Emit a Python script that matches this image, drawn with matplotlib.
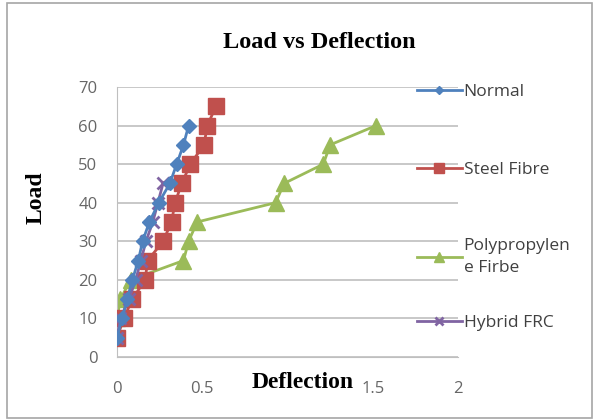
import matplotlib
matplotlib.use("Agg")
import matplotlib.pyplot as plt
from matplotlib.patches import Rectangle

# Load steps (kN) and deflections (mm)
normal_load = [5, 10, 15, 20, 25, 30, 35, 40, 45, 50, 55, 60]
normal_defl = [0.0, 0.03, 0.06, 0.09, 0.125, 0.15, 0.19, 0.245, 0.31, 0.35, 0.39, 0.42]

steel_load = [5, 10, 15, 20, 25, 30, 35, 40, 45, 50, 55, 60, 65]
steel_defl = [0.0, 0.04, 0.09, 0.165, 0.18, 0.27, 0.32, 0.34, 0.38, 0.43, 0.51, 0.53, 0.58]

poly_load = [10, 15, 20, 25, 30, 35, 40, 45, 50, 55, 60]
poly_defl = [0.0, 0.02, 0.08, 0.39, 0.42, 0.47, 0.93, 0.98, 1.21, 1.25, 1.52]

hybrid_load = [5, 10, 15, 20, 25, 30, 35, 40, 45]
hybrid_defl = [0.0, 0.02, 0.07, 0.11, 0.14, 0.17, 0.21, 0.24, 0.27]

x_ticks = [0, 0.5, 1, 1.5, 2]
x_tick_labels = ["0", "0.5", "", "1.5", "2"]
y_ticks = [0, 10, 20, 30, 40, 50, 60, 70]

fig = plt.figure(figsize=(5.93, 4.2), dpi=100)
ax = fig.add_axes([117 / 593, 1 - 357 / 420, (458 - 117) / 593, (357 - 87) / 420])

# Plot each series
h1, = ax.plot(normal_defl, normal_load, color="#4F81BD", marker="D", markersize=7, lw=2, label="Normal", zorder=5)
h2, = ax.plot(steel_defl, steel_load, color="#C0504D", marker="s", markersize=11, lw=2, label="Steel Fibre", zorder=3)
h3, = ax.plot(poly_defl, poly_load, color="#9BBB59", marker="^", markersize=11, lw=2, label="Polypropylen\ne Firbe", zorder=2)
h4, = ax.plot(hybrid_defl, hybrid_load, color="#8064A2", marker="x", markersize=9, mew=2, lw=2, label="Hybrid FRC", zorder=4)

# Axes styling
ax.set_xlim(0, 2)
ax.set_ylim(0, 70)
ax.set_xticks(x_ticks)
ax.set_xticklabels(x_tick_labels)
ax.set_yticks(y_ticks)
ax.grid(axis="y", color="#BFBFBF", lw=1.2)
ax.set_axisbelow(True)
for side in ["top", "right"]:
    ax.spines[side].set_visible(False)
ax.spines["left"].set_color("#BFBFBF")
ax.spines["bottom"].set_color("#BFBFBF")
ax.tick_params(axis="x", length=0, labelsize=12, labelcolor="#666666", pad=17)
ax.tick_params(axis="y", length=0, labelsize=12, labelcolor="#666666", pad=14)
for lbl in ax.get_xticklabels() + ax.get_yticklabels():
    lbl.set_family("Open Sans")

# Labels and title
fig.text(319 / 593, 1 - 43 / 420, "Load vs Deflection", ha="center", va="center",
         family="Liberation Serif", fontweight="bold", fontsize=17.5)
fig.text(303 / 593, 1 - 382 / 420, "Deflection", ha="center", va="center",
         family="Liberation Serif", fontweight="bold", fontsize=17)
fig.text(36 / 593, 1 - 198 / 420, "Load", ha="center", va="center", rotation=90,
         family="Liberation Serif", fontweight="bold", fontsize=17)

# One legend entry per series, placed at the positions of the original
for h, ypx in [(h1, 92), (h2, 170), (h3, 257), (h4, 323)]:
    leg = fig.legend(handles=[h], loc="center left", bbox_to_anchor=(408 / 593, 1 - ypx / 420),
                     frameon=False, handlelength=2.6, handletextpad=0.1, borderpad=0,
                     prop={"family": "Open Sans", "size": 12.5}, markerscale=0.6)
    for t in leg.get_texts():
        t.set_color("#404040")
        t.set_linespacing(1.5)

# Grey border around the chart
fig.patches.append(Rectangle((7 / 593, 2 / 420), 1 - 8 / 593, 1 - 5 / 420, transform=fig.transFigure,
                             fill=False, edgecolor="#A6A6A6", lw=1.2))

fig.savefig("out.png", dpi=100)
